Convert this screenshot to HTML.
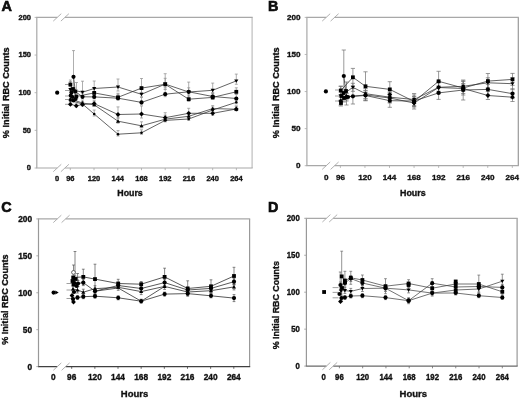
<!DOCTYPE html>
<html><head><meta charset="utf-8"><style>
html,body{margin:0;padding:0;background:#fff;}
svg{display:block;filter:blur(0.35px);}
.t{stroke:#111;stroke-width:0.35px;}
.L{stroke:#000;stroke-width:0.6px;}
</style></head><body>
<svg width="520" height="398" viewBox="0 0 520 398" font-family='"Liberation Sans", sans-serif' fill="#111">
<rect width="520" height="398" fill="#fff"/>
<text x="8.5" y="92.75" transform="rotate(-90 8.5 92.75)" text-anchor="middle" font-size="9.15" font-weight="bold" class="t">% Initial RBC Counts</text>
<text x="1.6" y="11.3" font-size="14.4" font-weight="bold" class="t L">A</text>
<text x="117.3" y="196" font-size="8.8" font-weight="bold" class="t">Hours</text>
<text transform="translate(31 170.41) scale(1 1)" text-anchor="end" font-size="7.5" font-weight="bold" class="t">0</text>
<text transform="translate(31 132.76) scale(1 1)" text-anchor="end" font-size="7.5" font-weight="bold" class="t">50</text>
<text transform="translate(31 95.11) scale(1 1)" text-anchor="end" font-size="7.5" font-weight="bold" class="t">100</text>
<text transform="translate(31 57.46) scale(1 1)" text-anchor="end" font-size="7.5" font-weight="bold" class="t">150</text>
<text transform="translate(31 19.81) scale(1 1)" text-anchor="end" font-size="7.5" font-weight="bold" class="t">200</text>
<text transform="translate(57.1 180.6) scale(1 1)" text-anchor="middle" font-size="7.5" font-weight="bold" class="t">0</text>
<text transform="translate(70.3 180.6) scale(1 1)" text-anchor="middle" font-size="7.5" font-weight="bold" class="t">96</text>
<text transform="translate(94.03 180.6) scale(1 1)" text-anchor="middle" font-size="7.5" font-weight="bold" class="t">120</text>
<text transform="translate(117.76 180.6) scale(1 1)" text-anchor="middle" font-size="7.5" font-weight="bold" class="t">144</text>
<text transform="translate(141.49 180.6) scale(1 1)" text-anchor="middle" font-size="7.5" font-weight="bold" class="t">168</text>
<text transform="translate(165.21 180.6) scale(1 1)" text-anchor="middle" font-size="7.5" font-weight="bold" class="t">192</text>
<text transform="translate(188.94 180.6) scale(1 1)" text-anchor="middle" font-size="7.5" font-weight="bold" class="t">216</text>
<text transform="translate(212.67 180.6) scale(1 1)" text-anchor="middle" font-size="7.5" font-weight="bold" class="t">240</text>
<text transform="translate(236.4 180.6) scale(1 1)" text-anchor="middle" font-size="7.5" font-weight="bold" class="t">264</text>
<g fill="none"><path d="M36.8 17.4V168" stroke="#a8a8a8" stroke-width="1.2"/><path d="M252.1 17.4V168" stroke="#bdbdbd" stroke-width="1.2"/><path d="M36.2 17.4H57.25M64.9 17.4H252.7" stroke="#a8a8a8" stroke-width="1.2"/><path d="M53.25 21.1L61.25 13.7" stroke="#a8a8a8" stroke-width="0.9"/><path d="M60.9 21.1L68.9 13.7" stroke="#a8a8a8" stroke-width="0.9"/><path d="M36.2 168H57.25M64.9 168H252.7" stroke="#a8a8a8" stroke-width="1.2"/><path d="M53.25 171.7L61.25 164.3" stroke="#a8a8a8" stroke-width="0.9"/><path d="M60.9 171.7L68.9 164.3" stroke="#a8a8a8" stroke-width="0.9"/><path d="M34.6 168H36.8" stroke="#a8a8a8" stroke-width="0.8"/><path d="M34.6 130.35H36.8" stroke="#a8a8a8" stroke-width="0.8"/><path d="M34.6 92.7H36.8" stroke="#a8a8a8" stroke-width="0.8"/><path d="M34.6 55.05H36.8" stroke="#a8a8a8" stroke-width="0.8"/><path d="M34.6 17.4H36.8" stroke="#a8a8a8" stroke-width="0.8"/><path d="M70.3 168V170.2" stroke="#a8a8a8" stroke-width="0.8"/><path d="M94.03 168V170.2" stroke="#a8a8a8" stroke-width="0.8"/><path d="M117.76 168V170.2" stroke="#a8a8a8" stroke-width="0.8"/><path d="M141.49 168V170.2" stroke="#a8a8a8" stroke-width="0.8"/><path d="M165.21 168V170.2" stroke="#a8a8a8" stroke-width="0.8"/><path d="M188.94 168V170.2" stroke="#a8a8a8" stroke-width="0.8"/><path d="M212.67 168V170.2" stroke="#a8a8a8" stroke-width="0.8"/><path d="M236.4 168V170.2" stroke="#a8a8a8" stroke-width="0.8"/></g>
<g fill="none"><path d="M65 84.5H70" stroke="#888" stroke-width="0.8"/><path d="M65 90.5H70" stroke="#888" stroke-width="0.8"/><path d="M65 96H70" stroke="#888" stroke-width="0.8"/><path d="M65 99.5H70" stroke="#888" stroke-width="0.8"/><path d="M65 104.3H70" stroke="#888" stroke-width="0.8"/></g>
<path fill="none" stroke="#8c8c8c" stroke-width="0.7" d="M70.4 86.5V91M68.9 86.5H71.9M68.9 91H71.9M82.5 81.2V97.7M81 81.2H84M81 97.7H84M94.2 81V92.25M92.7 81H95.7M92.7 92.25H95.7M118 79V91M116.5 79H119.5M116.5 91H119.5M141.5 89.3V96.8M140 89.3H143M140 96.8H143M165.2 73.7V89.3M163.7 73.7H166.7M163.7 89.3H166.7M188.7 82.1V96.95M187.2 82.1H190.2M187.2 96.95H190.2M212.7 83.1V93.9M211.2 83.1H214.2M211.2 93.9H214.2M236.3 74.1V84.3M234.8 74.1H237.8M234.8 84.3H237.8M70.4 81.5V86M68.9 81.5H71.9M68.9 86H71.9M76.3 93.5V98M74.8 93.5H77.8M74.8 98H77.8M94.2 88.9V94.9M92.7 88.9H95.7M92.7 94.9H95.7M118 93.3V99.3M116.5 93.3H119.5M116.5 99.3H119.5M141.5 78.5V92.9M140 78.5H143M140 92.9H143M165.2 78.3V87.3M163.7 78.3H166.7M163.7 87.3H166.7M188.7 95.2V101.2M187.2 95.2H190.2M187.2 101.2H190.2M212.7 93.4V99.4M211.2 93.4H214.2M211.2 99.4H214.2M236.3 87.8V93.8M234.8 87.8H237.8M234.8 93.8H237.8M73.5 50.6V89.9M72 50.6H75M72 89.9H75M75.3 89.5V92.5M73.8 89.5H76.8M73.8 92.5H76.8M82.5 93.8V98.3M81 93.8H84M81 98.3H84M94.2 92.9V98.9M92.7 92.9H95.7M92.7 98.9H95.7M118 94.2V100.2M116.5 94.2H119.5M116.5 100.2H119.5M141.5 97.4V104.9M140 97.4H143M140 104.9H143M165.2 89.2V96.7M163.7 89.2H166.7M163.7 96.7H166.7M188.7 87.8V93.8M187.2 87.8H190.2M187.2 93.8H190.2M212.7 92.5V98.5M211.2 92.5H214.2M211.2 98.5H214.2M236.3 94.5V100.5M234.8 94.5H237.8M234.8 100.5H237.8M70.4 102.3V105.3M68.9 102.3H71.9M68.9 105.3H71.9M76.3 103.8V106.8M74.8 103.8H77.8M74.8 106.8H77.8M82.5 101.5V106M81 101.5H84M81 106H84M94.2 100.6V105.1M92.7 100.6H95.7M92.7 105.1H95.7M118 106.9V118.3M116.5 106.9H119.5M116.5 118.3H119.5M141.5 106V118M140 106H143M140 118H143M165.2 112.7V120.2M163.7 112.7H166.7M163.7 120.2H166.7M188.7 108.3V115.8M187.2 108.3H190.2M187.2 115.8H190.2M212.7 109.3V115.3M211.2 109.3H214.2M211.2 115.3H214.2M236.3 106V110.5M234.8 106H237.8M234.8 110.5H237.8M70.4 97V100M68.9 97H71.9M68.9 100H71.9M82.5 100V104.5M81 100H84M81 104.5H84M94.2 101.8V106.3M92.7 101.8H95.7M92.7 106.3H95.7M118 117.2V123.2M116.5 117.2H119.5M116.5 123.2H119.5M141.5 121.8V127.8M140 121.8H143M140 127.8H143M165.2 115.2V121.2M163.7 115.2H166.7M163.7 121.2H166.7M188.7 112.3V118.3M187.2 112.3H190.2M187.2 118.3H190.2M212.7 105.6V110.1M211.2 105.6H214.2M211.2 110.1H214.2M236.3 106.2V110.7M234.8 106.2H237.8M234.8 110.7H237.8M70.4 98.5V101.5M68.9 98.5H71.9M68.9 101.5H71.9M82.5 102V105M81 102H84M81 105H84M94.2 110V116M92.7 110H95.7M92.7 116H95.7M118 130.6V136M116.5 130.6H119.5M116.5 136H119.5M141.5 129.8V134.3M140 129.8H143M140 134.3H143M165.2 117.4V121.9M163.7 117.4H166.7M163.7 121.9H166.7M188.7 116V120.5M187.2 116H190.2M187.2 120.5H190.2M212.7 107V111.5M211.2 107H214.2M211.2 111.5H214.2M236.3 99.3V103.8M234.8 99.3H237.8M234.8 103.8H237.8M76.5 82.5V90M75 82.5H78M75 90H78M70.4 80V84.5M68.9 80H71.9M68.9 84.5H71.9"/>
<g fill="none" stroke="#303030" stroke-width="0.75"><path d="M70.4 89.5L82.5 92.2L94.2 88.5L118 87L141.5 94.3L165.2 84.1L188.7 92L212.7 90.3L236.3 80.9"/><path d="M70.4 84.5L76.3 96.5L94.2 92.9L118 97.3L141.5 88.1L165.2 84.3L188.7 99.2L212.7 97.4L236.3 91.8"/><path d="M73.5 76.8L75.3 91.5L82.5 96.8L94.2 96.9L118 98.2L141.5 102.4L165.2 94.2L188.7 91.8L212.7 96.5L236.3 98.5"/><path d="M70.4 104.3L76.3 105.8L82.5 104.5L94.2 103.6L118 114.5L141.5 114L165.2 117.7L188.7 113.3L212.7 113.3L236.3 109"/><path d="M70.4 99L82.5 103L94.2 104.8L118 121.2L141.5 125.8L165.2 119.2L188.7 116.3L212.7 108.6L236.3 109.2"/><path d="M70.4 100.5L82.5 104L94.2 114L118 134.2L141.5 132.8L165.2 120.4L188.7 119L212.7 110L236.3 102.3"/></g>
<g fill="#000"><path d="M68.31 87.98H72.49L70.4 91.4Z"/><path d="M80.41 90.68H84.59L82.5 94.1Z"/><path d="M92.11 86.98H96.29L94.2 90.4Z"/><path d="M115.91 85.48H120.09L118 88.9Z"/><path d="M139.41 92.78H143.59L141.5 96.2Z"/><path d="M163.11 82.58H167.29L165.2 86Z"/><path d="M186.61 90.48H190.79L188.7 93.9Z"/><path d="M210.61 88.78H214.79L212.7 92.2Z"/><path d="M234.21 79.38H238.39L236.3 82.8Z"/><rect x="68.5" y="82.6" width="3.8" height="3.8"/><rect x="74.4" y="94.6" width="3.8" height="3.8"/><rect x="92.3" y="91" width="3.8" height="3.8"/><rect x="116.1" y="95.4" width="3.8" height="3.8"/><rect x="139.6" y="86.2" width="3.8" height="3.8"/><rect x="163.3" y="82.4" width="3.8" height="3.8"/><rect x="186.8" y="97.3" width="3.8" height="3.8"/><rect x="210.8" y="95.5" width="3.8" height="3.8"/><rect x="234.4" y="89.9" width="3.8" height="3.8"/><circle cx="73.5" cy="76.8" r="2.1"/><circle cx="75.3" cy="91.5" r="2.1"/><circle cx="82.5" cy="96.8" r="2.1"/><circle cx="94.2" cy="96.9" r="2.1"/><circle cx="118" cy="98.2" r="2.1"/><circle cx="141.5" cy="102.4" r="2.1"/><circle cx="165.2" cy="94.2" r="2.1"/><circle cx="188.7" cy="91.8" r="2.1"/><circle cx="212.7" cy="96.5" r="2.1"/><circle cx="236.3" cy="98.5" r="2.1"/><path d="M70.4 101.9L72.8 104.3L70.4 106.7L68 104.3Z"/><path d="M76.3 103.4L78.7 105.8L76.3 108.2L73.9 105.8Z"/><path d="M82.5 102.1L84.9 104.5L82.5 106.9L80.1 104.5Z"/><path d="M94.2 101.2L96.6 103.6L94.2 106L91.8 103.6Z"/><path d="M118 112.1L120.4 114.5L118 116.9L115.6 114.5Z"/><path d="M141.5 111.6L143.9 114L141.5 116.4L139.1 114Z"/><path d="M165.2 115.3L167.6 117.7L165.2 120.1L162.8 117.7Z"/><path d="M188.7 110.9L191.1 113.3L188.7 115.7L186.3 113.3Z"/><path d="M212.7 110.9L215.1 113.3L212.7 115.7L210.3 113.3Z"/><path d="M236.3 106.6L238.7 109L236.3 111.4L233.9 109Z"/><path d="M68.31 100.52H72.49L70.4 97.1Z"/><path d="M80.41 104.52H84.59L82.5 101.1Z"/><path d="M92.11 106.32H96.29L94.2 102.9Z"/><path d="M115.91 122.72H120.09L118 119.3Z"/><path d="M139.41 127.32H143.59L141.5 123.9Z"/><path d="M163.11 120.72H167.29L165.2 117.3Z"/><path d="M186.61 117.82H190.79L188.7 114.4Z"/><path d="M210.61 110.12H214.79L212.7 106.7Z"/><path d="M234.21 110.72H238.39L236.3 107.3Z"/><circle cx="70.4" cy="100.5" r="1.3"/><circle cx="82.5" cy="104" r="1.3"/><circle cx="94.2" cy="114" r="1.3"/><circle cx="118" cy="134.2" r="1.3"/><circle cx="141.5" cy="132.8" r="1.3"/><circle cx="165.2" cy="120.4" r="1.3"/><circle cx="188.7" cy="119" r="1.3"/><circle cx="212.7" cy="110" r="1.3"/><circle cx="236.3" cy="102.3" r="1.3"/><circle cx="57.2" cy="92.7" r="2.1"/><circle cx="71.5" cy="92.5" r="2.1"/><circle cx="72.5" cy="97" r="2.1"/><rect x="71.1" y="87.1" width="3.8" height="3.8"/><circle cx="75.5" cy="99" r="2.1"/><circle cx="70.8" cy="95.5" r="2.1"/><circle cx="73.5" cy="100.5" r="2.1"/></g>
<text x="279" y="92.75" transform="rotate(-90 279 92.75)" text-anchor="middle" font-size="9.15" font-weight="bold" class="t">% Initial RBC Counts</text>
<text x="267.9" y="11.3" font-size="14.4" font-weight="bold" class="t L">B</text>
<text x="400" y="196" font-size="8.9" font-weight="bold" class="t">Hours</text>
<text transform="translate(300.4 168.28) scale(1 1)" text-anchor="end" font-size="8.1" font-weight="bold" class="t">0</text>
<text transform="translate(300.4 131.2) scale(1 1)" text-anchor="end" font-size="8.1" font-weight="bold" class="t">50</text>
<text transform="translate(300.4 94.13) scale(1 1)" text-anchor="end" font-size="8.1" font-weight="bold" class="t">100</text>
<text transform="translate(300.4 57.05) scale(1 1)" text-anchor="end" font-size="8.1" font-weight="bold" class="t">150</text>
<text transform="translate(300.4 19.98) scale(1 1)" text-anchor="end" font-size="8.1" font-weight="bold" class="t">200</text>
<text transform="translate(326.2 179.55) scale(1 1)" text-anchor="middle" font-size="8.1" font-weight="bold" class="t">0</text>
<text transform="translate(340.4 179.55) scale(1 1)" text-anchor="middle" font-size="8.1" font-weight="bold" class="t">96</text>
<text transform="translate(364.96 179.55) scale(1 1)" text-anchor="middle" font-size="8.1" font-weight="bold" class="t">120</text>
<text transform="translate(389.51 179.55) scale(1 1)" text-anchor="middle" font-size="8.1" font-weight="bold" class="t">144</text>
<text transform="translate(414.07 179.55) scale(1 1)" text-anchor="middle" font-size="8.1" font-weight="bold" class="t">168</text>
<text transform="translate(438.63 179.55) scale(1 1)" text-anchor="middle" font-size="8.1" font-weight="bold" class="t">192</text>
<text transform="translate(463.19 179.55) scale(1 1)" text-anchor="middle" font-size="8.1" font-weight="bold" class="t">216</text>
<text transform="translate(487.74 179.55) scale(1 1)" text-anchor="middle" font-size="8.1" font-weight="bold" class="t">240</text>
<text transform="translate(512.3 179.55) scale(1 1)" text-anchor="middle" font-size="8.1" font-weight="bold" class="t">264</text>
<g fill="none"><path d="M306.9 17.4V165.7" stroke="#a8a8a8" stroke-width="1.2"/><path d="M518.3 17.4V165.7" stroke="#999" stroke-width="1.2"/><path d="M306.3 17.4H326.2M334.6 17.4H518.9" stroke="#a8a8a8" stroke-width="1.2"/><path d="M322.2 21.1L330.2 13.7" stroke="#a8a8a8" stroke-width="0.9"/><path d="M330.6 21.1L338.6 13.7" stroke="#a8a8a8" stroke-width="0.9"/><path d="M306.3 165.7H326.2M334.6 165.7H518.9" stroke="#a8a8a8" stroke-width="1.2"/><path d="M322.2 169.4L330.2 162" stroke="#a8a8a8" stroke-width="0.9"/><path d="M330.6 169.4L338.6 162" stroke="#a8a8a8" stroke-width="0.9"/><path d="M304.7 165.7H306.9" stroke="#a8a8a8" stroke-width="0.8"/><path d="M304.7 128.62H306.9" stroke="#a8a8a8" stroke-width="0.8"/><path d="M304.7 91.55H306.9" stroke="#a8a8a8" stroke-width="0.8"/><path d="M304.7 54.48H306.9" stroke="#a8a8a8" stroke-width="0.8"/><path d="M304.7 17.4H306.9" stroke="#a8a8a8" stroke-width="0.8"/><path d="M340.4 165.7V167.9" stroke="#a8a8a8" stroke-width="0.8"/><path d="M364.96 165.7V167.9" stroke="#a8a8a8" stroke-width="0.8"/><path d="M389.51 165.7V167.9" stroke="#a8a8a8" stroke-width="0.8"/><path d="M414.07 165.7V167.9" stroke="#a8a8a8" stroke-width="0.8"/><path d="M438.63 165.7V167.9" stroke="#a8a8a8" stroke-width="0.8"/><path d="M463.19 165.7V167.9" stroke="#a8a8a8" stroke-width="0.8"/><path d="M487.74 165.7V167.9" stroke="#a8a8a8" stroke-width="0.8"/><path d="M512.3 165.7V167.9" stroke="#a8a8a8" stroke-width="0.8"/></g>
<g fill="none"><path d="M335 90H341" stroke="#888" stroke-width="0.8"/><path d="M335 96H341" stroke="#888" stroke-width="0.8"/><path d="M335 101H341" stroke="#888" stroke-width="0.8"/></g>
<path fill="none" stroke="#6e6e6e" stroke-width="0.7" d="M340.8 86.5V94.5M338.7 86.5H342.9M338.7 94.5H342.9M352.9 68.4V86.2M350.8 68.4H355M350.8 86.2H355M365.5 71.8V100.8M363.4 71.8H367.6M363.4 100.8H367.6M389.8 81.7V97.1M387.7 81.7H391.9M387.7 97.1H391.9M414.1 96.5V106.5M412 96.5H416.2M412 106.5H416.2M438.6 71.3V91.3M436.5 71.3H440.7M436.5 91.3H440.7M463.2 81V95M461.1 81H465.3M461.1 95H465.3M487.9 73.5V88.7M485.8 73.5H490M485.8 88.7H490M512.5 73.4V85.4M510.4 73.4H514.6M510.4 85.4H514.6M340.8 92V100M338.7 92H342.9M338.7 100H342.9M352.9 83.3V91.3M350.8 83.3H355M350.8 91.3H355M365.5 88.7V98.7M363.4 88.7H367.6M363.4 98.7H367.6M389.8 92.2V102.2M387.7 92.2H391.9M387.7 102.2H391.9M414.1 93.5V105.5M412 93.5H416.2M412 105.5H416.2M438.6 81.3V93.3M436.5 81.3H440.7M436.5 93.3H440.7M463.2 81.3V91.3M461.1 81.3H465.3M461.1 91.3H465.3M487.9 77.8V87.8M485.8 77.8H490M485.8 87.8H490M512.5 77.7V89.7M510.4 77.7H514.6M510.4 89.7H514.6M343.8 50V102M341.7 50H345.9M341.7 102H345.9M346.5 93V101M344.4 93H348.6M344.4 101H348.6M352.9 88.6V104M350.8 88.6H355M350.8 104H355M365.5 90.5V100.5M363.4 90.5H367.6M363.4 100.5H367.6M389.8 94.1V107.3M387.7 94.1H391.9M387.7 107.3H391.9M414.1 95V107M412 95H416.2M412 107H416.2M438.6 86.4V99.4M436.5 86.4H440.7M436.5 99.4H440.7M463.2 80V100M461.1 80H465.3M461.1 100H465.3M487.9 84.4V94.4M485.8 84.4H490M485.8 94.4H490M512.5 88.7V98.7M510.4 88.7H514.6M510.4 98.7H514.6M340.8 97V105M338.7 97H342.9M338.7 105H342.9M346.5 93.7V99.7M344.4 93.7H348.6M344.4 99.7H348.6M365.5 91V99M363.4 91H367.6M363.4 99H367.6M389.8 93V103M387.7 93H391.9M387.7 103H391.9M414.1 97V109M412 97H416.2M412 109H416.2M438.6 82.5V92.5M436.5 82.5H440.7M436.5 92.5H440.7M463.2 83.5V93.5M461.1 83.5H465.3M461.1 93.5H465.3M487.9 91.5V99.5M485.8 91.5H490M485.8 99.5H490M512.5 92.9V101.5M510.4 92.9H514.6M510.4 101.5H514.6M346.5 82V105M344.4 82H348.6M344.4 105H348.6M340.8 86V106M338.7 86H342.9M338.7 106H342.9"/>
<g fill="none" stroke="#303030" stroke-width="0.75"><path d="M340.8 90.5L352.9 77.3L365.5 86.3L389.8 89.4L414.1 101.5L438.6 81.3L463.2 88L487.9 81.1L512.5 79.4"/><path d="M340.8 96L352.9 87.3L365.5 93.7L389.8 97.2L414.1 99.5L438.6 87.3L463.2 86.3L487.9 82.8L512.5 83.7"/><path d="M343.8 76L346.5 97L352.9 96.3L365.5 95.5L389.8 100.7L414.1 101L438.6 92.9L463.2 90L487.9 89.4L512.5 93.7"/><path d="M340.8 101L346.5 96.7L365.5 95L389.8 98L414.1 103L438.6 87.5L463.2 88.5L487.9 95.5L512.5 97.2"/></g>
<g fill="#000"><rect x="338.9" y="88.6" width="3.8" height="3.8"/><rect x="351" y="75.4" width="3.8" height="3.8"/><rect x="363.6" y="84.4" width="3.8" height="3.8"/><rect x="387.9" y="87.5" width="3.8" height="3.8"/><rect x="412.2" y="99.6" width="3.8" height="3.8"/><rect x="436.7" y="79.4" width="3.8" height="3.8"/><rect x="461.3" y="86.1" width="3.8" height="3.8"/><rect x="486" y="79.2" width="3.8" height="3.8"/><rect x="510.6" y="77.5" width="3.8" height="3.8"/><path d="M338.71 94.48H342.89L340.8 97.9Z"/><path d="M350.81 85.78H354.99L352.9 89.2Z"/><path d="M363.41 92.18H367.59L365.5 95.6Z"/><path d="M387.71 95.68H391.89L389.8 99.1Z"/><path d="M412.01 97.98H416.19L414.1 101.4Z"/><path d="M436.51 85.78H440.69L438.6 89.2Z"/><path d="M461.11 84.78H465.29L463.2 88.2Z"/><path d="M485.81 81.28H489.99L487.9 84.7Z"/><path d="M510.41 82.18H514.59L512.5 85.6Z"/><circle cx="343.8" cy="76" r="2.1"/><circle cx="346.5" cy="97" r="2.1"/><circle cx="352.9" cy="96.3" r="2.1"/><circle cx="365.5" cy="95.5" r="2.1"/><circle cx="389.8" cy="100.7" r="2.1"/><circle cx="414.1" cy="101" r="2.1"/><circle cx="438.6" cy="92.9" r="2.1"/><circle cx="463.2" cy="90" r="2.1"/><circle cx="487.9" cy="89.4" r="2.1"/><circle cx="512.5" cy="93.7" r="2.1"/><path d="M340.8 98.6L343.2 101L340.8 103.4L338.4 101Z"/><path d="M346.5 94.3L348.9 96.7L346.5 99.1L344.1 96.7Z"/><path d="M365.5 92.6L367.9 95L365.5 97.4L363.1 95Z"/><path d="M389.8 95.6L392.2 98L389.8 100.4L387.4 98Z"/><path d="M414.1 100.6L416.5 103L414.1 105.4L411.7 103Z"/><path d="M438.6 85.1L441 87.5L438.6 89.9L436.2 87.5Z"/><path d="M463.2 86.1L465.6 88.5L463.2 90.9L460.8 88.5Z"/><path d="M487.9 93.1L490.3 95.5L487.9 97.9L485.5 95.5Z"/><path d="M512.5 94.8L514.9 97.2L512.5 99.6L510.1 97.2Z"/><path d="M389.8 92.2L392.2 94.6L389.8 97L387.4 94.6Z"/><circle cx="325.9" cy="91.4" r="2.1"/><rect x="339.6" y="94.1" width="3.8" height="3.8"/><rect x="342.1" y="96.1" width="3.8" height="3.8"/><rect x="339.1" y="101.1" width="3.8" height="3.8"/><rect x="344.1" y="89.1" width="3.8" height="3.8"/><circle cx="348" cy="97" r="2.1"/><rect x="341.6" y="91.1" width="3.8" height="3.8"/></g>
<text x="8.3" y="299.65" transform="rotate(-90 8.3 299.65)" text-anchor="middle" font-size="9.1" font-weight="bold" class="t">% Initial RBC Counts</text>
<text x="1.2" y="211.9" font-size="14.4" font-weight="bold" class="t L">C</text>
<text x="120.8" y="397.2" font-size="9.5" font-weight="bold" class="t">Hours</text>
<text transform="translate(32 369.6) scale(1 1)" text-anchor="end" font-size="8.3" font-weight="bold" class="t">0</text>
<text transform="translate(32 332.67) scale(1 1)" text-anchor="end" font-size="8.3" font-weight="bold" class="t">50</text>
<text transform="translate(32 295.75) scale(1 1)" text-anchor="end" font-size="8.3" font-weight="bold" class="t">100</text>
<text transform="translate(32 258.82) scale(1 1)" text-anchor="end" font-size="8.3" font-weight="bold" class="t">150</text>
<text transform="translate(32 221.9) scale(1 1)" text-anchor="end" font-size="8.3" font-weight="bold" class="t">200</text>
<text transform="translate(53.4 380.2) scale(1 1)" text-anchor="middle" font-size="8.3" font-weight="bold" class="t">0</text>
<text transform="translate(71.7 380.2) scale(1 1)" text-anchor="middle" font-size="8.3" font-weight="bold" class="t">96</text>
<text transform="translate(94.86 380.2) scale(1 1)" text-anchor="middle" font-size="8.3" font-weight="bold" class="t">120</text>
<text transform="translate(118.01 380.2) scale(1 1)" text-anchor="middle" font-size="8.3" font-weight="bold" class="t">144</text>
<text transform="translate(141.17 380.2) scale(1 1)" text-anchor="middle" font-size="8.3" font-weight="bold" class="t">168</text>
<text transform="translate(164.33 380.2) scale(1 1)" text-anchor="middle" font-size="8.3" font-weight="bold" class="t">192</text>
<text transform="translate(187.49 380.2) scale(1 1)" text-anchor="middle" font-size="8.3" font-weight="bold" class="t">216</text>
<text transform="translate(210.64 380.2) scale(1 1)" text-anchor="middle" font-size="8.3" font-weight="bold" class="t">240</text>
<text transform="translate(233.8 380.2) scale(1 1)" text-anchor="middle" font-size="8.3" font-weight="bold" class="t">264</text>
<g fill="none"><path d="M38.5 218.9V366.6" stroke="#999" stroke-width="1.2"/><path d="M249.6 218.9V366.6" stroke="#999" stroke-width="1.2"/><path d="M37.9 218.9H57.3M65.6 218.9H250.2" stroke="#a8a8a8" stroke-width="1.2"/><path d="M53.3 222.6L61.3 215.2" stroke="#a8a8a8" stroke-width="0.9"/><path d="M61.6 222.6L69.6 215.2" stroke="#a8a8a8" stroke-width="0.9"/><path d="M37.9 366.6H57.3M65.6 366.6H250.2" stroke="#404040" stroke-width="1.2"/><path d="M53.3 370.3L61.3 362.9" stroke="#a8a8a8" stroke-width="0.9"/><path d="M61.6 370.3L69.6 362.9" stroke="#a8a8a8" stroke-width="0.9"/><path d="M36.3 366.6H38.5" stroke="#999" stroke-width="0.8"/><path d="M36.3 329.68H38.5" stroke="#999" stroke-width="0.8"/><path d="M36.3 292.75H38.5" stroke="#999" stroke-width="0.8"/><path d="M36.3 255.82H38.5" stroke="#999" stroke-width="0.8"/><path d="M36.3 218.9H38.5" stroke="#999" stroke-width="0.8"/><path d="M71.7 366.6V368.8" stroke="#404040" stroke-width="0.8"/><path d="M94.86 366.6V368.8" stroke="#404040" stroke-width="0.8"/><path d="M118.01 366.6V368.8" stroke="#404040" stroke-width="0.8"/><path d="M141.17 366.6V368.8" stroke="#404040" stroke-width="0.8"/><path d="M164.33 366.6V368.8" stroke="#404040" stroke-width="0.8"/><path d="M187.49 366.6V368.8" stroke="#404040" stroke-width="0.8"/><path d="M210.64 366.6V368.8" stroke="#404040" stroke-width="0.8"/><path d="M233.8 366.6V368.8" stroke="#404040" stroke-width="0.8"/></g>
<g fill="none"><path d="M66.5 283.5H72" stroke="#888" stroke-width="0.8"/><path d="M66.5 290H72" stroke="#888" stroke-width="0.8"/><path d="M66.5 298.5H72" stroke="#888" stroke-width="0.8"/></g>
<path fill="none" stroke="#555" stroke-width="0.7" d="M73.2 272.5V282.5M71.8 272.5H74.6M71.8 282.5H74.6M83.3 269.2V284.6M81.9 269.2H84.7M81.9 284.6H84.7M95 264.2V294M93.6 264.2H96.4M93.6 294H96.4M118.2 279.3V287.7M116.8 279.3H119.6M116.8 287.7H119.6M141.2 281.5V286.9M139.8 281.5H142.6M139.8 286.9H142.6M164.6 268.2V285.6M163.2 268.2H166M163.2 285.6H166M187.7 280.8V296.2M186.3 280.8H189.1M186.3 296.2H189.1M211 279.8V292.8M209.6 279.8H212.4M209.6 292.8H212.4M234 267.3V284.7M232.6 267.3H235.4M232.6 284.7H235.4M74.5 280V286M73.1 280H75.9M73.1 286H75.9M78 280.5V286.5M76.6 280.5H79.4M76.6 286.5H79.4M83.3 279.6V285.6M81.9 279.6H84.7M81.9 285.6H84.7M95 288.2V294.2M93.6 288.2H96.4M93.6 294.2H96.4M118.2 282.5V288.5M116.8 282.5H119.6M116.8 288.5H119.6M141.2 285.5V291.5M139.8 285.5H142.6M139.8 291.5H142.6M164.6 279.6V285.6M163.2 279.6H166M163.2 285.6H166M187.7 287V293M186.3 287H189.1M186.3 293H189.1M211 285.4V291.4M209.6 285.4H212.4M209.6 291.4H212.4M234 278.7V284.7M232.6 278.7H235.4M232.6 284.7H235.4M73 286V292M71.6 286H74.4M71.6 292H74.4M77.5 287V293M76.1 287H78.9M76.1 293H78.9M83.3 289.2V295.2M81.9 289.2H84.7M81.9 295.2H84.7M95 285.7V291.7M93.6 285.7H96.4M93.6 291.7H96.4M118.2 284.3V290.3M116.8 284.3H119.6M116.8 290.3H119.6M141.2 288.6V294.6M139.8 288.6H142.6M139.8 294.6H142.6M164.6 283.4V289.4M163.2 283.4H166M163.2 289.4H166M187.7 289V295M186.3 289H189.1M186.3 295H189.1M211 287.7V293.7M209.6 287.7H212.4M209.6 293.7H212.4M234 283.9V289.9M232.6 283.9H235.4M232.6 289.9H235.4M73 297V301M71.6 297H74.4M71.6 301H74.4M77.5 295.5V299.5M76.1 295.5H78.9M76.1 299.5H78.9M83.3 294.7V298.7M81.9 294.7H84.7M81.9 298.7H84.7M95 294.2V298.2M93.6 294.2H96.4M93.6 298.2H96.4M118.2 295.8V299.8M116.8 295.8H119.6M116.8 299.8H119.6M141.2 299.2V303.2M139.8 299.2H142.6M139.8 303.2H142.6M164.6 292.1V296.1M163.2 292.1H166M163.2 296.1H166M187.7 291.6V295.6M186.3 291.6H189.1M186.3 295.6H189.1M211 293.8V297.8M209.6 293.8H212.4M209.6 297.8H212.4M234 294.6V301.6M232.6 294.6H235.4M232.6 301.6H235.4M75 251.5V276M73.6 251.5H76.4M73.6 276H76.4M73.5 265V272.4M72.1 265H74.9M72.1 272.4H74.9M77.6 273.5V280M76.2 273.5H79M76.2 280H79"/>
<g fill="none" stroke="#222" stroke-width="0.75"><path d="M73.2 277.5L83.3 276.9L95 279.1L118.2 283.5L141.2 284.2L164.6 276.9L187.7 288.5L211 286.3L234 276"/><path d="M74.5 283L78 283.5L83.3 282.6L95 291.2L118.2 285.5L141.2 288.5L164.6 282.6L187.7 290L211 288.4L234 281.7"/><path d="M73 289L77.5 290L83.3 292.2L95 288.7L118.2 287.3L141.2 291.6L164.6 286.4L187.7 292L211 290.7L234 286.9"/><path d="M95 291.2L118.2 288L141.2 301.2L164.6 286.4"/><path d="M73 299L77.5 297.5L83.3 296.7L95 296.2L118.2 297.8L141.2 301.2L164.6 294.1L187.7 293.6L211 295.8L234 298.1"/></g>
<g fill="#000"><rect x="71.3" y="275.6" width="3.8" height="3.8"/><rect x="81.4" y="275" width="3.8" height="3.8"/><rect x="93.1" y="277.2" width="3.8" height="3.8"/><rect x="116.3" y="281.6" width="3.8" height="3.8"/><rect x="139.3" y="282.3" width="3.8" height="3.8"/><rect x="162.7" y="275" width="3.8" height="3.8"/><rect x="185.8" y="286.6" width="3.8" height="3.8"/><rect x="209.1" y="284.4" width="3.8" height="3.8"/><rect x="232.1" y="274.1" width="3.8" height="3.8"/><circle cx="74.5" cy="283" r="2.1"/><circle cx="78" cy="283.5" r="2.1"/><circle cx="83.3" cy="282.6" r="2.1"/><circle cx="95" cy="291.2" r="2.1"/><circle cx="118.2" cy="285.5" r="2.1"/><circle cx="141.2" cy="288.5" r="2.1"/><circle cx="164.6" cy="282.6" r="2.1"/><circle cx="187.7" cy="290" r="2.1"/><circle cx="211" cy="288.4" r="2.1"/><circle cx="234" cy="281.7" r="2.1"/><path d="M70.91 290.52H75.09L73 287.1Z"/><path d="M75.41 291.52H79.59L77.5 288.1Z"/><path d="M81.21 293.72H85.39L83.3 290.3Z"/><path d="M92.91 290.22H97.09L95 286.8Z"/><path d="M116.11 288.82H120.29L118.2 285.4Z"/><path d="M139.11 293.12H143.29L141.2 289.7Z"/><path d="M162.51 287.92H166.69L164.6 284.5Z"/><path d="M185.61 293.52H189.79L187.7 290.1Z"/><path d="M208.91 292.22H213.09L211 288.8Z"/><path d="M231.91 288.42H236.09L234 285Z"/><circle cx="73" cy="299" r="2.1"/><circle cx="77.5" cy="297.5" r="2.1"/><circle cx="83.3" cy="296.7" r="2.1"/><circle cx="95" cy="296.2" r="2.1"/><circle cx="118.2" cy="297.8" r="2.1"/><circle cx="141.2" cy="301.2" r="2.1"/><circle cx="164.6" cy="294.1" r="2.1"/><circle cx="187.7" cy="293.6" r="2.1"/><circle cx="211" cy="295.8" r="2.1"/><circle cx="234" cy="298.1" r="2.1"/><circle cx="53.6" cy="292.6" r="2.1"/><path d="M55.3 290.6L58.7 292.6L55.3 294.6Z"/><circle cx="73.5" cy="272.4" r="1.9" fill="#fff" stroke="#444" stroke-width="0.8"/><rect x="70.6" y="279.1" width="3.8" height="3.8"/><rect x="73.6" y="277.1" width="3.8" height="3.8"/><circle cx="76.5" cy="286" r="2.1"/><rect x="71.6" y="282.6" width="3.8" height="3.8"/><path d="M72 293.1L74.4 295.5L72 297.9L69.6 295.5Z"/><path d="M73.5 299.6L75.9 302L73.5 304.4L71.1 302Z"/><circle cx="74" cy="292" r="2.1"/></g>
<text x="278.8" y="305.2" transform="rotate(-90 278.8 305.2)" text-anchor="middle" font-size="8.9" font-weight="bold" class="t">% Initial RBC Counts</text>
<text x="268" y="212" font-size="14.4" font-weight="bold" class="t L">D</text>
<text x="399.6" y="397.2" font-size="9.5" font-weight="bold" class="t">Hours</text>
<text transform="translate(299.8 368.85) scale(0.94 1)" text-anchor="end" font-size="8.3" font-weight="bold" class="t">0</text>
<text transform="translate(299.8 331.9) scale(0.94 1)" text-anchor="end" font-size="8.3" font-weight="bold" class="t">50</text>
<text transform="translate(299.8 294.95) scale(0.94 1)" text-anchor="end" font-size="8.3" font-weight="bold" class="t">100</text>
<text transform="translate(299.8 258) scale(0.94 1)" text-anchor="end" font-size="8.3" font-weight="bold" class="t">150</text>
<text transform="translate(299.8 221.05) scale(0.94 1)" text-anchor="end" font-size="8.3" font-weight="bold" class="t">200</text>
<text transform="translate(323.7 380) scale(0.94 1)" text-anchor="middle" font-size="8.3" font-weight="bold" class="t">0</text>
<text transform="translate(339.4 380) scale(0.94 1)" text-anchor="middle" font-size="8.3" font-weight="bold" class="t">96</text>
<text transform="translate(362.67 380) scale(0.94 1)" text-anchor="middle" font-size="8.3" font-weight="bold" class="t">120</text>
<text transform="translate(385.94 380) scale(0.94 1)" text-anchor="middle" font-size="8.3" font-weight="bold" class="t">144</text>
<text transform="translate(409.21 380) scale(0.94 1)" text-anchor="middle" font-size="8.3" font-weight="bold" class="t">168</text>
<text transform="translate(432.49 380) scale(0.94 1)" text-anchor="middle" font-size="8.3" font-weight="bold" class="t">192</text>
<text transform="translate(455.76 380) scale(0.94 1)" text-anchor="middle" font-size="8.3" font-weight="bold" class="t">216</text>
<text transform="translate(479.03 380) scale(0.94 1)" text-anchor="middle" font-size="8.3" font-weight="bold" class="t">240</text>
<text transform="translate(502.3 380) scale(0.94 1)" text-anchor="middle" font-size="8.3" font-weight="bold" class="t">264</text>
<g fill="none"><path d="M306.4 218.3V366.1" stroke="#999" stroke-width="1.2"/><path d="M517.1 218.3V366.1" stroke="#999" stroke-width="1.2"/><path d="M305.8 218.3H326.4M333.2 218.3H517.7" stroke="#a8a8a8" stroke-width="1.2"/><path d="M322.4 222L330.4 214.6" stroke="#a8a8a8" stroke-width="0.9"/><path d="M329.2 222L337.2 214.6" stroke="#a8a8a8" stroke-width="0.9"/><path d="M305.8 366.1H326.4M333.2 366.1H517.7" stroke="#6a6a6a" stroke-width="1.2"/><path d="M322.4 369.8L330.4 362.4" stroke="#a8a8a8" stroke-width="0.9"/><path d="M329.2 369.8L337.2 362.4" stroke="#a8a8a8" stroke-width="0.9"/><path d="M304.2 366.1H306.4" stroke="#999" stroke-width="0.8"/><path d="M304.2 329.15H306.4" stroke="#999" stroke-width="0.8"/><path d="M304.2 292.2H306.4" stroke="#999" stroke-width="0.8"/><path d="M304.2 255.25H306.4" stroke="#999" stroke-width="0.8"/><path d="M304.2 218.3H306.4" stroke="#999" stroke-width="0.8"/><path d="M339.4 366.1V368.3" stroke="#6a6a6a" stroke-width="0.8"/><path d="M362.67 366.1V368.3" stroke="#6a6a6a" stroke-width="0.8"/><path d="M385.94 366.1V368.3" stroke="#6a6a6a" stroke-width="0.8"/><path d="M409.21 366.1V368.3" stroke="#6a6a6a" stroke-width="0.8"/><path d="M432.49 366.1V368.3" stroke="#6a6a6a" stroke-width="0.8"/><path d="M455.76 366.1V368.3" stroke="#6a6a6a" stroke-width="0.8"/><path d="M479.03 366.1V368.3" stroke="#6a6a6a" stroke-width="0.8"/><path d="M502.3 366.1V368.3" stroke="#6a6a6a" stroke-width="0.8"/></g>
<g fill="none"><path d="M332.6 287.6H338.5" stroke="#888" stroke-width="0.8"/><path d="M332.6 292.4H338.5" stroke="#888" stroke-width="0.8"/><path d="M332.6 297.8H338.5" stroke="#888" stroke-width="0.8"/></g>
<path fill="none" stroke="#666" stroke-width="0.7" d="M341.7 251.2V301.6M340.3 251.2H343.1M340.3 301.6H343.1M344.9 271.3V289.7M343.5 271.3H346.3M343.5 289.7H346.3M350.8 271.3V284.3M349.4 271.3H352.2M349.4 284.3H352.2M362.4 275V285M361 275H363.8M361 285H363.8M385.5 278.7V293.7M384.1 278.7H386.9M384.1 293.7H386.9M408.6 279.7V287.3M407.2 279.7H410M407.2 287.3H410M432.2 284.2V292.2M430.8 284.2H433.6M430.8 292.2H433.6M455.7 280.4V287.6M454.3 280.4H457.1M454.3 287.6H457.1M478.8 275.1V292.9M477.4 275.1H480.2M477.4 292.9H480.2M502.3 288.8V294.8M500.9 288.8H503.7M500.9 294.8H503.7M340.5 282V288M339.1 282H341.9M339.1 288H341.9M344.9 280V286M343.5 280H346.3M343.5 286H346.3M350.8 275.5V281.5M349.4 275.5H352.2M349.4 281.5H352.2M362.4 280V286M361 280H363.8M361 286H363.8M385.5 285.2V291.2M384.1 285.2H386.9M384.1 291.2H386.9M408.6 297.7V303.7M407.2 297.7H410M407.2 303.7H410M432.2 278.7V287.7M430.8 278.7H433.6M430.8 287.7H433.6M455.7 284V290M454.3 284H457.1M454.3 290H457.1M478.8 283.5V289.5M477.4 283.5H480.2M477.4 289.5H480.2M502.3 284.4V290.4M500.9 284.4H503.7M500.9 290.4H503.7M341 288V294M339.6 288H342.4M339.6 294H342.4M344.9 287.5V293.5M343.5 287.5H346.3M343.5 293.5H346.3M350.8 288.4V294.4M349.4 288.4H352.2M349.4 294.4H352.2M362.4 285.5V291.5M361 285.5H363.8M361 291.5H363.8M385.5 285.2V291.2M384.1 285.2H386.9M384.1 291.2H386.9M408.6 286.9V292.9M407.2 286.9H410M407.2 292.9H410M432.2 290.1V296.1M430.8 290.1H433.6M430.8 296.1H433.6M455.7 287V293M454.3 287H457.1M454.3 293H457.1M478.8 286V292M477.4 286H480.2M477.4 292H480.2M502.3 274.2V288.2M500.9 274.2H503.7M500.9 288.2H503.7M341.5 296V300M340.1 296H342.9M340.1 300H342.9M344.9 295.5V299.5M343.5 295.5H346.3M343.5 299.5H346.3M350.8 294V298M349.4 294H352.2M349.4 298H352.2M362.4 293.7V297.7M361 293.7H363.8M361 297.7H363.8M385.5 295.6V299.6M384.1 295.6H386.9M384.1 299.6H386.9M408.6 298.7V302.7M407.2 298.7H410M407.2 302.7H410M432.2 291.1V295.1M430.8 291.1H433.6M430.8 295.1H433.6M455.7 291V295M454.3 291H457.1M454.3 295H457.1M478.8 293.7V297.7M477.4 293.7H480.2M477.4 297.7H480.2M502.3 295.5V299.5M500.9 295.5H503.7M500.9 299.5H503.7M340.2 272V290M338.8 272H341.6M338.8 290H341.6"/>
<g fill="none" stroke="#444" stroke-width="0.75"><path d="M341.7 276.4L344.9 280.5L350.8 277.8L362.4 280L385.5 286.2L408.6 283.5L432.2 288.2L455.7 284L478.8 284L502.3 291.8"/><path d="M340.5 285L344.9 283L350.8 278.5L362.4 283L385.5 288.2L408.6 300.7L432.2 283.2L455.7 287L478.8 286.5L502.3 287.4"/><path d="M341 291L344.9 290.5L350.8 291.4L362.4 288.5L385.5 288.2L408.6 289.9L432.2 293.1L455.7 290L478.8 289L502.3 281.2"/><path d="M341.5 298L344.9 297.5L350.8 296L362.4 295.7L385.5 297.6L408.6 300.7L432.2 293.1L455.7 293L478.8 295.7L502.3 297.5"/></g>
<g fill="#000"><rect x="339.8" y="274.5" width="3.8" height="3.8"/><rect x="343" y="278.6" width="3.8" height="3.8"/><rect x="348.9" y="275.9" width="3.8" height="3.8"/><rect x="360.5" y="278.1" width="3.8" height="3.8"/><rect x="383.6" y="284.3" width="3.8" height="3.8"/><rect x="406.7" y="281.6" width="3.8" height="3.8"/><rect x="430.3" y="286.3" width="3.8" height="3.8"/><rect x="453.8" y="282.1" width="3.8" height="3.8"/><rect x="476.9" y="282.1" width="3.8" height="3.8"/><rect x="500.4" y="289.9" width="3.8" height="3.8"/><circle cx="340.5" cy="285" r="2.1"/><circle cx="344.9" cy="283" r="2.1"/><circle cx="350.8" cy="278.5" r="2.1"/><circle cx="362.4" cy="283" r="2.1"/><circle cx="385.5" cy="288.2" r="2.1"/><circle cx="408.6" cy="300.7" r="2.1"/><circle cx="432.2" cy="283.2" r="2.1"/><circle cx="455.7" cy="287" r="2.1"/><circle cx="478.8" cy="286.5" r="2.1"/><circle cx="502.3" cy="287.4" r="2.1"/><path d="M338.91 289.48H343.09L341 292.9Z"/><path d="M342.81 288.98H346.99L344.9 292.4Z"/><path d="M348.71 289.88H352.89L350.8 293.3Z"/><path d="M360.31 286.98H364.49L362.4 290.4Z"/><path d="M383.41 286.68H387.59L385.5 290.1Z"/><path d="M406.51 288.38H410.69L408.6 291.8Z"/><path d="M430.11 291.58H434.29L432.2 295Z"/><path d="M453.61 288.48H457.79L455.7 291.9Z"/><path d="M476.71 287.48H480.89L478.8 290.9Z"/><path d="M500.21 279.68H504.39L502.3 283.1Z"/><circle cx="341.5" cy="298" r="2.1"/><circle cx="344.9" cy="297.5" r="2.1"/><circle cx="350.8" cy="296" r="2.1"/><circle cx="362.4" cy="295.7" r="2.1"/><circle cx="385.5" cy="297.6" r="2.1"/><circle cx="408.6" cy="300.7" r="2.1"/><circle cx="432.2" cy="293.1" r="2.1"/><circle cx="455.7" cy="293" r="2.1"/><circle cx="478.8" cy="295.7" r="2.1"/><circle cx="502.3" cy="297.5" r="2.1"/><rect x="322.2" y="290.1" width="3.8" height="3.8"/><path d="M340.5 299.1L342.9 301.5L340.5 303.9L338.1 301.5Z"/><rect x="340.1" y="286.1" width="3.8" height="3.8"/><circle cx="339.5" cy="294" r="2.1"/><rect x="343" y="280.6" width="3.8" height="3.8"/><rect x="406.7" y="283.1" width="3.8" height="3.8"/><rect x="453.8" y="279.6" width="3.8" height="3.8"/><rect x="453.8" y="289.1" width="3.8" height="3.8"/><rect x="476.9" y="285.1" width="3.8" height="3.8"/></g>
</svg>
</body></html>
